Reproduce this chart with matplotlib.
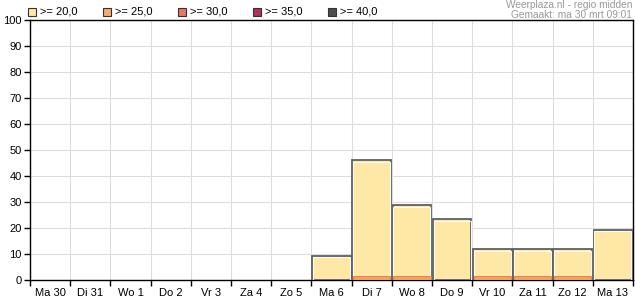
import matplotlib
matplotlib.use("Agg")
import matplotlib.pyplot as plt
from matplotlib.patches import Rectangle

plt.rcParams['font.family'] = ['Liberation Sans', 'DejaVu Sans']

days = ["Ma 30", "Di 31", "Wo 1", "Do 2", "Vr 3", "Za 4", "Zo 5", "Ma 6",
        "Di 7", "Wo 8", "Do 9", "Vr 10", "Za 11", "Zo 12", "Ma 13"]
ge20 = [0, 0, 0, 0, 0, 0, 0, 9.4, 46.0, 28.7, 23.3, 11.8, 11.8, 11.8, 19.4]
ge25 = [0, 0, 0, 0, 0, 0, 0, 0, 1.6, 1.6, 0, 1.6, 1.6, 1.6, 0]
legend_labels = [">= 20,0", ">= 25,0", ">= 30,0", ">= 35,0", ">= 40,0"]
legend_colors = ["#FFE8A6", "#F8AA72", "#EE7468", "#B0305E", "#4D4D4D"]
yticks = [0, 10, 20, 30, 40, 50, 60, 70, 80, 90, 100]

W, H = 635, 300
fig = plt.figure(figsize=(W / 100, H / 100), dpi=100)
ax = fig.add_axes([30 / W, 20 / H, 603 / W, 260 / H])

x = list(range(len(days)))
i20 = [i for i in x if ge20[i] > 0]
v20 = [ge20[i] for i in i20]
i25 = [i for i in x if ge25[i] > 0]
v25 = [ge25[i] for i in i25]

# main bars with grey outline and white inner highlight
ax.bar(i20, v20, width=0.965, color=legend_colors[0], edgecolor="#606060",
       linewidth=1.3, zorder=3)
ax.bar(i20, [v - 0.55 for v in v20], width=0.92, fill=False,
       edgecolor="white", linewidth=0.7, zorder=4)
ax.bar(i25, v25, width=0.93, color="#F5A060", edgecolor="#E07A40",
       linewidth=0.6, zorder=5)

ax.set_xlim(-0.5, len(days) - 0.5)
ax.set_ylim(0, 100)
ax.set_yticks(yticks)
ax.set_yticklabels([str(v) for v in yticks], fontsize=8)

bounds = [i - 0.5 for i in range(len(days) + 1)]
ax.set_xticks(bounds)
ax.set_xticklabels([])
ax.set_xticks(x, minor=True)
ax.set_xticklabels(days, minor=True, fontsize=8)
ax.tick_params(axis='x', which='minor', length=0, pad=6)
ax.tick_params(axis='x', which='major', length=4, width=1, direction='out')
ax.tick_params(axis='y', length=4, width=1, direction='out', pad=2)

ax.grid(True, which='major', color="#DDDDDD", linewidth=0.8, zorder=0)
ax.set_axisbelow(True)
for s in ax.spines.values():
    s.set_color("black")
    s.set_linewidth(1.0)

# legend
x0 = 28
for i, (lab, col) in enumerate(zip(legend_labels, legend_colors)):
    lx = x0 + i * 75
    fig.add_artist(Rectangle((lx / W, (H - 16) / H), 8 / W, 8 / H,
                             transform=fig.transFigure, facecolor=col,
                             edgecolor="#333333", linewidth=0.8))
    fig.text((lx + 12) / W, (H - 12) / H, lab, fontsize=8, va='center',
             ha='left', color="black")

fig.text(632 / W, (H - 5.5) / H, "Weerplaza.nl - regio midden", fontsize=7.3,
         ha='right', va='center', color="#999999")
fig.text(632 / W, (H - 15) / H, "Gemaakt: ma 30 mrt 09:01", fontsize=7.3,
         ha='right', va='center', color="#999999")

fig.savefig("out.png", dpi=100)
